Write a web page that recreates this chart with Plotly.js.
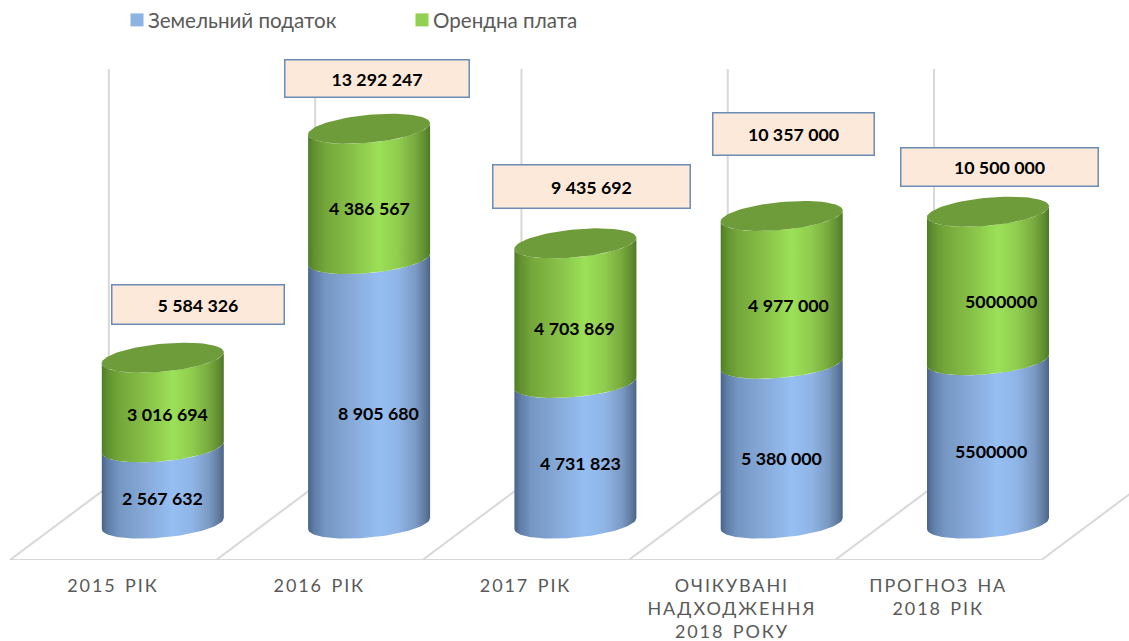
<!DOCTYPE html>
<html lang="uk">
<head>
<meta charset="utf-8">
<title>Земельний податок та орендна плата</title>
<script src="https://cdn.plot.ly/plotly-3.0.1.min.js"></script>
<style>
html,body{margin:0;padding:0;background:#fff;overflow:hidden}
#chart{width:1129px;height:641px}
.xtick text{letter-spacing:1.9px;word-spacing:2px}
</style>
</head>
<body>
<div id="chart"></div>
<script>
// ---- data ----
const categories = ['2015 РІК','2016 РІК','2017 РІК','ОЧІКУВАНІ<br>НАДХОДЖЕННЯ<br>2018 РОКУ','ПРОГНОЗ НА<br>2018 РІК'];
const landTax = [2567632, 8905680, 4731823, 5380000, 5500000];
const rent    = [3016694, 4386567, 4703869, 4977000, 5000000];
const totals  = [5584326, 13292247, 9435692, 10357000, 10500000];
const landTaxLabels = ['2 567 632','8 905 680','4 731 823','5 380 000','5500000'];
const rentLabels    = ['3 016 694','4 386 567','4 703 869','4 977 000','5000000'];
const totalLabels   = ['5 584 326','13 292 247','9 435 692','10 357 000','10 500 000'];
const seriesNames = ['Земельний податок','Орендна плата'];

// ---- layout constants ----
const W = 1129, H = 641, FLOOR_PX = 560;
const X0_PX = 113, X_STEP_PX = 206.3;
const ZERO_PX = 523.5, VAL_PER_PX = 13292247 / (523.5 - 128);
const xOf = p => (p - X0_PX) / X_STEP_PX;
const yOf = p => (ZERO_PX - p) * VAL_PER_PX;
const CYL_SHIFT = 49.8 / X_STEP_PX, CYL_HALF = 61 / X_STEP_PX;
const SKEW = 5.5 * VAL_PER_PX, BULGE = 14 * VAL_PER_PX;
const GRID = '#d8d8d8';

const landLabelPos = [[162,498],[378.5,413],[580,463],[781,458],[991,451]];
const rentLabelPos = [[167,414],[369,207],[574,328],[788,305],[1000.5,301]];
const boxes = [[111.5,284.5,284,324],[284.5,469.5,59,97],[492.5,690.5,164,208],[712.5,874.5,112,155],[900.5,1098.5,147,186]];

const blueScale = [[0,'#4a6488'],[0.05,'#5f7ea8'],[0.14,'#7596c2'],[0.35,'#86a9d8'],[0.58,'#96bef2'],[0.74,'#8fb5e6'],[0.88,'#7b9ac4'],[0.96,'#5f7a9f'],[1,'#4c6485']];
const greenScale = [[0,'#4f7d27'],[0.05,'#619130'],[0.14,'#74a63a'],[0.35,'#86bf47'],[0.58,'#9ce058'],[0.74,'#8fcc4e'],[0.88,'#78a93e'],[0.96,'#5f8d31'],[1,'#4d7826']];
const CAP = '#6f9c3b';
const STEPS = 48;

// front arc of a cylinder cross-section at value v (left → right)
function arc(i, v) {
  const xs = [], ys = [], cx = i + CYL_SHIFT;
  for (let k = 0; k <= STEPS; k++) {
    const t = Math.PI * (1 - k / STEPS);
    xs.push(cx + CYL_HALF * Math.cos(t));
    ys.push(v - (-SKEW * Math.cos(t) + BULGE * Math.sin(t)));
  }
  return {xs, ys};
}
function segment(i, v0, v1, scale, name) {
  const a = arc(i, v0), b = arc(i, v1);
  return {
    type:'scatter', mode:'lines', name, showlegend:false, hoverinfo:'skip',
    x:a.xs.concat(b.xs.slice().reverse()), y:a.ys.concat(b.ys.slice().reverse()),
    fill:'toself', line:{width:0,color:'rgba(0,0,0,0)'},
    fillgradient:{type:'horizontal', colorscale:scale}
  };
}
function cap(i, v) {
  const a = arc(i, v), xs = a.xs.slice(), ys = a.ys.slice(), cx = i + CYL_SHIFT;
  for (let k = 1; k < STEPS; k++) {
    const t = Math.PI * k / STEPS;
    xs.push(cx + CYL_HALF * Math.cos(t));
    ys.push(v - (-SKEW * Math.cos(t) - BULGE * Math.sin(t)));
  }
  return {type:'scatter', mode:'lines', showlegend:false, hoverinfo:'skip', x:xs, y:ys,
    fill:'toself', fillcolor:CAP, line:{width:0,color:CAP}};
}

const traces = [];
categories.forEach((c,i) => {
  traces.push(segment(i, 0, landTax[i], blueScale, seriesNames[0]));
  traces.push(segment(i, landTax[i], landTax[i]+rent[i], greenScale, seriesNames[1]));
  traces.push(cap(i, landTax[i]+rent[i]));
});
// legend entries
traces.push({type:'scatter',mode:'markers',name:seriesNames[0],x:[null],y:[null],marker:{symbol:'square',size:13,color:'#8db3e2'}});
traces.push({type:'scatter',mode:'markers',name:seriesNames[1],x:[null],y:[null],marker:{symbol:'square',size:13,color:'#92d050'}});

// floor and wall lines
const shapes = [];
const line = (x0,y0,x1,y1) => ({type:'line',layer:'below',xref:'x',yref:'y',x0,y0,x1,y1,line:{color:GRID,width:2}});
const yFront = yOf(FLOOR_PX), yBack = yOf(486), yTop = yOf(68), depth = 99 / X_STEP_PX;
shapes.push(line(-0.5, yFront, 4.5, yFront));
for (let i = 0; i <= 5; i++) {
  shapes.push(line(i-0.5, yFront, i-0.5+depth, yBack));
  shapes.push(line(i-0.5+depth, yBack, i-0.5+depth, yTop));
}

// value labels and total boxes
const FONT = 'Lato, "Open Sans", "Noto Sans", sans-serif';
const annotations = [];
const valueLabel = (txt,p) => ({xref:'x',yref:'y',x:xOf(p[0]),y:yOf(p[1]),text:'<b>'+txt+'</b>',showarrow:false,
  xanchor:'center',yanchor:'middle',font:{family:FONT,size:17.8,color:'#000'}});
landTaxLabels.forEach((t,i)=>annotations.push(valueLabel(t,landLabelPos[i])));
rentLabels.forEach((t,i)=>annotations.push(valueLabel(t,rentLabelPos[i])));
totalLabels.forEach((t,i)=>{
  const b = boxes[i];
  annotations.push({xref:'x',yref:'y',x:xOf((b[0]+b[1])/2),y:yOf((b[2]+b[3])/2),text:'<b>'+t+'</b>',showarrow:false,
    xanchor:'center',yanchor:'middle',width:b[1]-b[0]-2,height:b[3]-b[2]-2,borderpad:0,align:'center',valign:'middle',
    bgcolor:'#fde9d9',bordercolor:'#6a8cb6',borderwidth:1.5,font:{family:FONT,size:17.8,color:'#000'}});
});

const layout = {
  width:W, height:H, paper_bgcolor:'#fff', plot_bgcolor:'#fff',
  margin:{l:0,r:0,t:0,b:H-FLOOR_PX,pad:0},
  showlegend:true,
  legend:{orientation:'h',x:(108)/W,xanchor:'left',y:1.002,yanchor:'top',
    font:{family:FONT,size:20.6,color:'#595959'},entrywidth:240,entrywidthmode:'pixels',bgcolor:'rgba(0,0,0,0)',itemclick:false,itemdoubleclick:false},
  xaxis:{range:[xOf(0),xOf(W)],tickmode:'array',tickvals:categories.map((c,i)=>i),ticktext:categories,
    showgrid:false,zeroline:false,showline:false,ticks:'outside',ticklen:9,tickcolor:'rgba(0,0,0,0)',fixedrange:true,tickangle:0,
    tickfont:{family:FONT,size:18,color:'#595959'}},
  yaxis:{range:[yOf(FLOOR_PX),yOf(0)],visible:false,fixedrange:true},
  shapes, annotations
};

Plotly.newPlot('chart',traces,layout,{displayModeBar:false}).then(gd=>{
  // tighten the gap between legend swatch and its label
  document.querySelectorAll('.legendpoints').forEach(n=>n.setAttribute('transform','translate(9,0)'));
});
</script>
</body>
</html>
